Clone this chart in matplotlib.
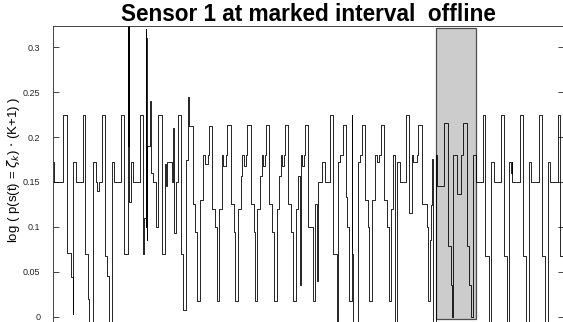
import matplotlib
matplotlib.use("Agg")
import matplotlib.pyplot as plt
from matplotlib.patches import Rectangle

# step breakpoints of the sensor trace (time in samples, value held until the next time)
t_break = [
    0, 1, 4,
    13.3, 16.5, 20.5, 22.7, 23.3, 26,
    32.7, 35.3, 38.3, 39.3, 42.7, 46, 46.7, 49.3,
    51.7, 55, 57.3, 59.3, 61.7, 64.3,
    70.7, 74.3, 78.0, 78.4, 78.7, 79.0, 79.3, 80.5, 83,
    89.5, 93.3, 94.3, 95.7, 96.0, 96.3, 96.6, 97.3, 100, 100.5, 103.3, 106,
    108.3, 111.7, 115, 115.5, 116.5, 121.7, 123.3, 124, 125.5,
    127.7, 131, 133.3, 136, 138, 138.5,
    142.5, 145, 147.3, 150, 153, 155, 157.5,
    159, 162.3, 165, 166.7, 169, 171.7, 173, 176,
    177.3, 181, 183.5, 185.3, 188, 190.5, 192, 193.5, 196,
    197.3, 200.7, 203.5, 205, 207.3, 210, 212, 213, 215,
    216, 219.3, 222, 224, 226.5, 229, 231, 232, 234,
    235, 238.3, 241, 243, 245.5, 248, 249.5, 250.5, 252, 254,
    255, 258.3, 262.7, 265, 266.5, 268.3, 271.7, 275,
    280, 283.3, 286.7, 288.3, 289.5, 293.3, 296, 297.3, 299.3, 301.5, 302, 303.3, 308.3, 309.5,
    311.7, 315, 318.3, 319.3, 321.7, 325, 326.7, 329.3,
    330.7, 334, 336.7, 339.3, 341, 343.3, 344.5, 346.7, 350,
    356.3, 359.3, 361.7, 363, 366.7,
    368.3, 371.7, 376.7, 378.3, 380, 381, 381.7, 383, 385.5, 386.5,
    394.3, 397.7, 401, 402, 403.3, 406.7, 411, 412.7, 416.7, 419.3, 421, 423.3, 426,
    432.7, 435.4, 438.5, 441, 443.7,
    451, 453.7, 456.5, 459.3, 461, 461.5, 462,
    470.3, 473, 475.8, 478.6, 481.3,
    489.3, 492, 494.8, 497.6, 500.3,
    507.7, 510.4, 513.2, 516,
]
level = [
    0.142, 0.172, 0.15,
    0.225, 0.071, 0.044, 0.003, 0.172, 0.15,
    0.225, 0.07, 0.02, -0.01, 0.172, 0.15, 0.14, 0.15,
    0.225, 0.068, 0.045, -0.01, 0.172, 0.15,
    0.225, 0.07, 0.34, 0.19, 0.34, 0.2, 0.128, 0.172, 0.15,
    0.225, 0.07, 0.11, 0.32, 0.1, 0.31, 0.085, 0.19, 0.24, 0.16, 0.15, 0.1,
    0.225, 0.07, 0.17, 0.145, 0.172, 0.15, 0.21, 0.093, 0.15,
    0.225, 0.07, 0.007, 0.174, 0.245, 0.212,
    0.125, 0.094, 0.018, 0.13, 0.18, 0.17, 0.18,
    0.212, 0.12, 0.1, 0.018, 0.12, 0.18, 0.168, 0.18,
    0.213, 0.126, 0.094, 0.018, 0.12, 0.157, 0.18, 0.168, 0.18,
    0.213, 0.126, 0.094, 0.018, 0.12, 0.157, 0.18, 0.168, 0.18,
    0.213, 0.126, 0.094, 0.018, 0.12, 0.157, 0.18, 0.168, 0.18,
    0.213, 0.126, 0.094, 0.018, 0.12, 0.157, 0.035, 0.18, 0.168, 0.18,
    0.213, 0.1, 0.018, 0.126, 0.04, 0.15, 0.172, 0.15,
    0.225, 0.07, -0.01, 0.172, 0.18, 0.213, 0.133, 0.1, 0.018, 0.225, 0.07, -0.01, 0.172, 0.18,
    0.213, 0.13, 0.1, 0.018, 0.13, 0.18, 0.172, 0.18,
    0.213, 0.13, 0.1, 0.018, 0.12, 0.18, -0.01, 0.172, 0.15,
    0.225, 0.115, 0.18, 0.172, 0.18,
    0.213, 0.126, 0.1, 0.018, 0.085, 0.124, 0.176, -0.01, 0.18, 0.146,
    0.216, 0.079, 0.035, 0.0, 0.18, 0.137, 0.18, 0.216, 0.079, 0.035, 0.0, 0.18, 0.15,
    0.225, 0.068, -0.01, 0.172, 0.15,
    0.225, 0.068, -0.01, 0.172, 0.16, 0.172, 0.15,
    0.225, 0.068, -0.01, 0.172, 0.15,
    0.225, 0.068, -0.01, 0.172, 0.15,
    0.225, 0.068, -0.01, 0.172,
]

# interval where the sensor was offline
offline_start, offline_end = 386, 426
offline_low, offline_high = -0.0026, 0.321

y_ticks = [0, 0.05, 0.1, 0.15, 0.2, 0.25, 0.3]
y_ticklabels = ["0", "0.05", "0.1", "0.15", "0.2", "0.25", "0.3"]

plt.rcParams.update({"font.family": ["Liberation Sans", "DejaVu Sans"]})
fig = plt.figure(figsize=(5.63, 3.22), dpi=100)
ax = fig.add_axes([53 / 563, -0.1, 511 / 563, 1.0208])

ax.add_patch(Rectangle((offline_start, offline_low), offline_end - offline_start,
                       offline_high - offline_low, facecolor="#cccccc",
                       edgecolor="#4d4d4d", linewidth=0.9, zorder=1))
ax.plot(t_break, level, drawstyle="steps-post", color="black", linewidth=0.6, zorder=2)

ax.set_xlim(3, 514)
ax.set_ylim(-0.0417, 0.3241)
ax.set_yticks(y_ticks)
ax.set_yticklabels(y_ticklabels)
ax.set_xticks([])
ax.tick_params(axis="y", direction="in", length=4.5, width=0.6, right=True,
               labelsize=6.5, pad=9, colors="#262626")
for side in ["top", "left", "right", "bottom"]:
    ax.spines[side].set_linewidth(0.6)
    ax.spines[side].set_color("#262626")

ax.set_ylabel(r"log ( p(s(t) = $\zeta_k$) $\cdot$ (K+1) )", fontsize=9.5)
ax.yaxis.set_label_coords(-31 / 511, 0.5 + 0.06)
ax.set_title("Sensor 1 at marked interval  offline", fontsize=16.3,
             fontweight="bold", pad=0.5)

fig.savefig("out.png", dpi=100)
